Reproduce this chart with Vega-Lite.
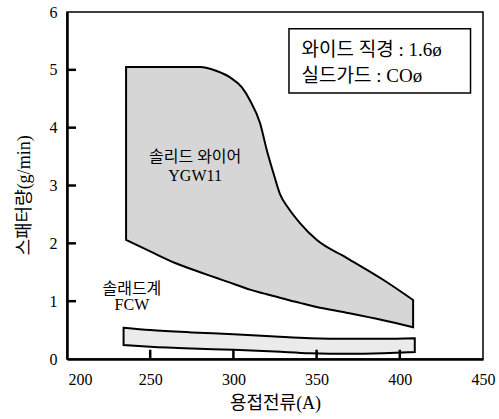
{
  "$schema": "https://vega.github.io/schema/vega-lite/v6.json",
  "width": 416,
  "height": 347,
  "autosize": {"type": "none"},
  "padding": {"left": 67, "top": 12, "right": 16, "bottom": 60},
  "background": "white",
  "config": {
    "view": {"stroke": "black", "strokeWidth": 1.5},
    "axis": {
      "domainColor": "black",
      "domainWidth": 2.5,
      "grid": false,
      "ticks": false,
      "labelFont": "Liberation Serif",
      "labelFontSize": 16,
      "labelColor": "black",
      "titleFont": "Liberation Serif, Noto Sans CJK KR",
      "titleFontSize": 18,
      "titleFontWeight": "normal",
      "titleColor": "black"
    }
  },
  "datasets": {
    "ygw": [
      {"I": 235.5, "top": 5.05, "bottom": 2.06},
      {"I": 250, "top": 5.05, "bottom": 1.86},
      {"I": 265, "top": 5.05, "bottom": 1.66},
      {"I": 280, "top": 5.05, "bottom": 1.5},
      {"I": 290, "top": 4.98, "bottom": 1.4},
      {"I": 298, "top": 4.87, "bottom": 1.32},
      {"I": 305, "top": 4.7, "bottom": 1.25},
      {"I": 310, "top": 4.47, "bottom": 1.2},
      {"I": 316, "top": 4.08, "bottom": 1.15},
      {"I": 320, "top": 3.62, "bottom": 1.12},
      {"I": 324, "top": 3.22, "bottom": 1.09},
      {"I": 328, "top": 2.85, "bottom": 1.06},
      {"I": 333, "top": 2.61, "bottom": 1.02},
      {"I": 340, "top": 2.35, "bottom": 0.97},
      {"I": 350, "top": 2.06, "bottom": 0.9},
      {"I": 368, "top": 1.75, "bottom": 0.8},
      {"I": 390, "top": 1.37, "bottom": 0.67},
      {"I": 408, "top": 1.02, "bottom": 0.55}
    ],
    "fcw": [
      {"I": 234, "top": 0.54, "bottom": 0.24},
      {"I": 250, "top": 0.5, "bottom": 0.21},
      {"I": 275, "top": 0.46, "bottom": 0.18},
      {"I": 300, "top": 0.43, "bottom": 0.16},
      {"I": 325, "top": 0.39, "bottom": 0.13},
      {"I": 346, "top": 0.36, "bottom": 0.1},
      {"I": 370, "top": 0.35, "bottom": 0.09},
      {"I": 390, "top": 0.35, "bottom": 0.1},
      {"I": 409, "top": 0.36, "bottom": 0.12}
    ],
    "yticks": [{"v": 1}, {"v": 2}, {"v": 3}, {"v": 4}, {"v": 5}],
    "xticks": [{"v": 250}, {"v": 300}, {"v": 350}, {"v": 400}],
    "labels": [
      {"I": 277, "v": 3.5, "text": "솔리드 와이어"},
      {"I": 277, "v": 3.17, "text": "YGW11"},
      {"I": 239, "v": 1.21, "text": "솔래드계"},
      {"I": 239, "v": 0.93, "text": "FCW"}
    ],
    "box": [{"x1": 333.4, "x2": 442.5, "y1": 5.71, "y2": 4.6}],
    "boxtext": [
      {"I": 341, "v": 5.34, "text": "와이드 직경 : 1.6ø"},
      {"I": 341, "v": 4.9, "text": "실드가드 : COø"}
    ]
  },
  "layer": [
    {
      "data": {"name": "ygw"},
      "mark": {"type": "area", "interpolate": "monotone", "fill": "#d6d6d6", "stroke": "black", "strokeWidth": 2},
      "encoding": {
        "x": {
          "field": "I", "type": "quantitative",
          "scale": {"domain": [200, 450], "nice": false},
          "axis": {
            "values": [200, 250, 300, 350, 400, 450],
            "format": "d",
            "title": "용접전류(A)",
            "labelPadding": 12,
            "labelAlign": {"expr": "datum.value == 200 ? 'left' : 'center'"},
            "labelOffset": {"expr": "datum.value == 200 ? 1 : 0"},
            "titleY": 44,
            "titleBaseline": "middle"
          }
        },
        "y": {
          "field": "top", "type": "quantitative",
          "scale": {"domain": [0, 6], "nice": false},
          "axis": {
            "values": [0, 1, 2, 3, 4, 5, 6],
            "format": "d",
            "title": "스패터량(g/min)",
            "labelPadding": 10,
            "titleX": -43,
            "titleY": 183,
            "titleBaseline": "middle",
            "titleAlign": "center"
          }
        },
        "y2": {"field": "bottom"}
      }
    },
    {
      "data": {"name": "fcw"},
      "mark": {"type": "area", "interpolate": "monotone", "fill": "#ebebeb", "stroke": "black", "strokeWidth": 2},
      "encoding": {
        "x": {"field": "I", "type": "quantitative"},
        "y": {"field": "top", "type": "quantitative"},
        "y2": {"field": "bottom"}
      }
    },
    {
      "data": {"name": "yticks"},
      "mark": {"type": "rule", "color": "black", "strokeWidth": 2.5},
      "encoding": {
        "y": {"field": "v", "type": "quantitative"},
        "x": {"datum": 200},
        "x2": {"datum": 205.4}
      }
    },
    {
      "data": {"name": "xticks"},
      "mark": {"type": "rule", "color": "black", "strokeWidth": 2.5},
      "encoding": {
        "x": {"field": "v", "type": "quantitative"},
        "y": {"datum": 0},
        "y2": {"datum": 0.16}
      }
    },
    {
      "data": {"name": "labels"},
      "mark": {"type": "text", "font": "Liberation Serif, Noto Sans CJK KR", "fontSize": 16, "color": "black", "baseline": "middle", "align": "center"},
      "encoding": {
        "x": {"field": "I", "type": "quantitative"},
        "y": {"field": "v", "type": "quantitative"},
        "text": {"field": "text"}
      }
    },
    {
      "data": {"name": "box"},
      "mark": {"type": "rect", "fill": "white", "stroke": "black", "strokeWidth": 1.5},
      "encoding": {
        "x": {"field": "x1", "type": "quantitative"},
        "x2": {"field": "x2"},
        "y": {"field": "y1", "type": "quantitative"},
        "y2": {"field": "y2"}
      }
    },
    {
      "data": {"name": "boxtext"},
      "mark": {"type": "text", "font": "Liberation Serif, Noto Sans CJK KR", "fontSize": 19, "color": "black", "baseline": "middle", "align": "left"},
      "encoding": {
        "x": {"field": "I", "type": "quantitative"},
        "y": {"field": "v", "type": "quantitative"},
        "text": {"field": "text"}
      }
    }
  ]
}
